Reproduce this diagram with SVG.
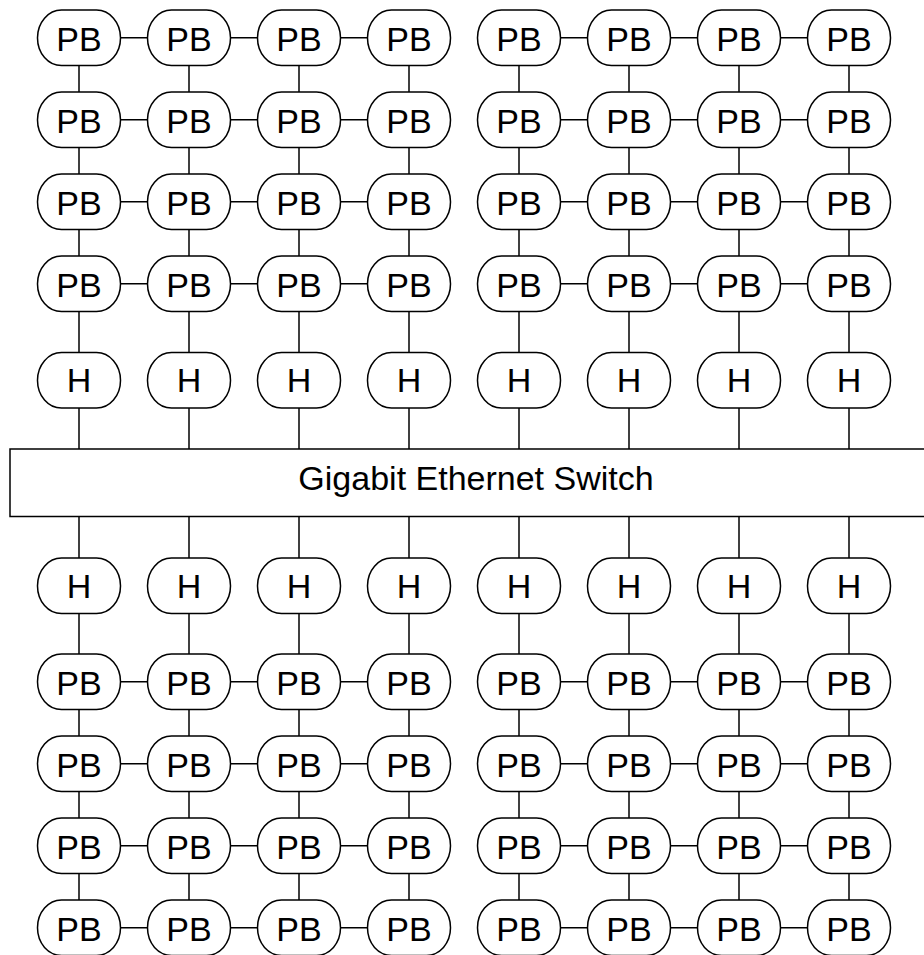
<svg xmlns="http://www.w3.org/2000/svg" width="924" height="955" viewBox="0 0 924 955">
<style>
.n{fill:#fff;stroke:#000;stroke-width:1.5}
.t{font-family:"Liberation Sans",Arial,sans-serif;font-size:34px;text-anchor:middle;fill:#000}
.c line{stroke:#000;stroke-width:1.5}
</style>
<defs>
<rect id="node" x="-41.5" y="-27.7" width="83" height="55.5" rx="24" ry="27.7" class="n"/>
</defs>
<g id="connectors" class="c">
<line x1="79" y1="37.8" x2="79" y2="449"/><line x1="189" y1="37.8" x2="189" y2="449"/><line x1="299" y1="37.8" x2="299" y2="449"/><line x1="409" y1="37.8" x2="409" y2="449"/>
<line x1="519" y1="37.8" x2="519" y2="449"/><line x1="629" y1="37.8" x2="629" y2="449"/><line x1="739" y1="37.8" x2="739" y2="449"/><line x1="849" y1="37.8" x2="849" y2="449"/>
<line x1="79" y1="516.5" x2="79" y2="927.7"/><line x1="189" y1="516.5" x2="189" y2="927.7"/><line x1="299" y1="516.5" x2="299" y2="927.7"/><line x1="409" y1="516.5" x2="409" y2="927.7"/>
<line x1="519" y1="516.5" x2="519" y2="927.7"/><line x1="629" y1="516.5" x2="629" y2="927.7"/><line x1="739" y1="516.5" x2="739" y2="927.7"/><line x1="849" y1="516.5" x2="849" y2="927.7"/>
<line x1="79" y1="37.8" x2="409" y2="37.8"/><line x1="519" y1="37.8" x2="849" y2="37.8"/>
<line x1="79" y1="119.8" x2="409" y2="119.8"/><line x1="519" y1="119.8" x2="849" y2="119.8"/>
<line x1="79" y1="201.8" x2="409" y2="201.8"/><line x1="519" y1="201.8" x2="849" y2="201.8"/>
<line x1="79" y1="283.8" x2="409" y2="283.8"/><line x1="519" y1="283.8" x2="849" y2="283.8"/>
<line x1="79" y1="681.7" x2="409" y2="681.7"/><line x1="519" y1="681.7" x2="849" y2="681.7"/>
<line x1="79" y1="763.7" x2="409" y2="763.7"/><line x1="519" y1="763.7" x2="849" y2="763.7"/>
<line x1="79" y1="845.7" x2="409" y2="845.7"/><line x1="519" y1="845.7" x2="849" y2="845.7"/>
<line x1="79" y1="927.7" x2="409" y2="927.7"/><line x1="519" y1="927.7" x2="849" y2="927.7"/>
</g>
<g id="switch">
<rect x="10" y="449" width="932" height="67.5" class="n"/>
<text x="476" y="489.5" class="t">Gigabit Ethernet Switch</text>
</g>
<g id="nodes-top">
<g id="pb-t1-1" transform="translate(79,37.8)"><use href="#node"/><text y="13" class="t">PB</text></g>
<g id="pb-t1-2" transform="translate(189,37.8)"><use href="#node"/><text y="13" class="t">PB</text></g>
<g id="pb-t1-3" transform="translate(299,37.8)"><use href="#node"/><text y="13" class="t">PB</text></g>
<g id="pb-t1-4" transform="translate(409,37.8)"><use href="#node"/><text y="13" class="t">PB</text></g>
<g id="pb-t1-5" transform="translate(519,37.8)"><use href="#node"/><text y="13" class="t">PB</text></g>
<g id="pb-t1-6" transform="translate(629,37.8)"><use href="#node"/><text y="13" class="t">PB</text></g>
<g id="pb-t1-7" transform="translate(739,37.8)"><use href="#node"/><text y="13" class="t">PB</text></g>
<g id="pb-t1-8" transform="translate(849,37.8)"><use href="#node"/><text y="13" class="t">PB</text></g>
<g id="pb-t2-1" transform="translate(79,119.8)"><use href="#node"/><text y="13" class="t">PB</text></g>
<g id="pb-t2-2" transform="translate(189,119.8)"><use href="#node"/><text y="13" class="t">PB</text></g>
<g id="pb-t2-3" transform="translate(299,119.8)"><use href="#node"/><text y="13" class="t">PB</text></g>
<g id="pb-t2-4" transform="translate(409,119.8)"><use href="#node"/><text y="13" class="t">PB</text></g>
<g id="pb-t2-5" transform="translate(519,119.8)"><use href="#node"/><text y="13" class="t">PB</text></g>
<g id="pb-t2-6" transform="translate(629,119.8)"><use href="#node"/><text y="13" class="t">PB</text></g>
<g id="pb-t2-7" transform="translate(739,119.8)"><use href="#node"/><text y="13" class="t">PB</text></g>
<g id="pb-t2-8" transform="translate(849,119.8)"><use href="#node"/><text y="13" class="t">PB</text></g>
<g id="pb-t3-1" transform="translate(79,201.8)"><use href="#node"/><text y="13" class="t">PB</text></g>
<g id="pb-t3-2" transform="translate(189,201.8)"><use href="#node"/><text y="13" class="t">PB</text></g>
<g id="pb-t3-3" transform="translate(299,201.8)"><use href="#node"/><text y="13" class="t">PB</text></g>
<g id="pb-t3-4" transform="translate(409,201.8)"><use href="#node"/><text y="13" class="t">PB</text></g>
<g id="pb-t3-5" transform="translate(519,201.8)"><use href="#node"/><text y="13" class="t">PB</text></g>
<g id="pb-t3-6" transform="translate(629,201.8)"><use href="#node"/><text y="13" class="t">PB</text></g>
<g id="pb-t3-7" transform="translate(739,201.8)"><use href="#node"/><text y="13" class="t">PB</text></g>
<g id="pb-t3-8" transform="translate(849,201.8)"><use href="#node"/><text y="13" class="t">PB</text></g>
<g id="pb-t4-1" transform="translate(79,283.8)"><use href="#node"/><text y="13" class="t">PB</text></g>
<g id="pb-t4-2" transform="translate(189,283.8)"><use href="#node"/><text y="13" class="t">PB</text></g>
<g id="pb-t4-3" transform="translate(299,283.8)"><use href="#node"/><text y="13" class="t">PB</text></g>
<g id="pb-t4-4" transform="translate(409,283.8)"><use href="#node"/><text y="13" class="t">PB</text></g>
<g id="pb-t4-5" transform="translate(519,283.8)"><use href="#node"/><text y="13" class="t">PB</text></g>
<g id="pb-t4-6" transform="translate(629,283.8)"><use href="#node"/><text y="13" class="t">PB</text></g>
<g id="pb-t4-7" transform="translate(739,283.8)"><use href="#node"/><text y="13" class="t">PB</text></g>
<g id="pb-t4-8" transform="translate(849,283.8)"><use href="#node"/><text y="13" class="t">PB</text></g>
<g id="h-t-1" transform="translate(79,380.3)"><use href="#node"/><text y="12" class="t">H</text></g>
<g id="h-t-2" transform="translate(189,380.3)"><use href="#node"/><text y="12" class="t">H</text></g>
<g id="h-t-3" transform="translate(299,380.3)"><use href="#node"/><text y="12" class="t">H</text></g>
<g id="h-t-4" transform="translate(409,380.3)"><use href="#node"/><text y="12" class="t">H</text></g>
<g id="h-t-5" transform="translate(519,380.3)"><use href="#node"/><text y="12" class="t">H</text></g>
<g id="h-t-6" transform="translate(629,380.3)"><use href="#node"/><text y="12" class="t">H</text></g>
<g id="h-t-7" transform="translate(739,380.3)"><use href="#node"/><text y="12" class="t">H</text></g>
<g id="h-t-8" transform="translate(849,380.3)"><use href="#node"/><text y="12" class="t">H</text></g>
</g>
<g id="nodes-bottom">
<g id="h-b-1" transform="translate(79,585.8)"><use href="#node"/><text y="12" class="t">H</text></g>
<g id="h-b-2" transform="translate(189,585.8)"><use href="#node"/><text y="12" class="t">H</text></g>
<g id="h-b-3" transform="translate(299,585.8)"><use href="#node"/><text y="12" class="t">H</text></g>
<g id="h-b-4" transform="translate(409,585.8)"><use href="#node"/><text y="12" class="t">H</text></g>
<g id="h-b-5" transform="translate(519,585.8)"><use href="#node"/><text y="12" class="t">H</text></g>
<g id="h-b-6" transform="translate(629,585.8)"><use href="#node"/><text y="12" class="t">H</text></g>
<g id="h-b-7" transform="translate(739,585.8)"><use href="#node"/><text y="12" class="t">H</text></g>
<g id="h-b-8" transform="translate(849,585.8)"><use href="#node"/><text y="12" class="t">H</text></g>
<g id="pb-b1-1" transform="translate(79,681.7)"><use href="#node"/><text y="13" class="t">PB</text></g>
<g id="pb-b1-2" transform="translate(189,681.7)"><use href="#node"/><text y="13" class="t">PB</text></g>
<g id="pb-b1-3" transform="translate(299,681.7)"><use href="#node"/><text y="13" class="t">PB</text></g>
<g id="pb-b1-4" transform="translate(409,681.7)"><use href="#node"/><text y="13" class="t">PB</text></g>
<g id="pb-b1-5" transform="translate(519,681.7)"><use href="#node"/><text y="13" class="t">PB</text></g>
<g id="pb-b1-6" transform="translate(629,681.7)"><use href="#node"/><text y="13" class="t">PB</text></g>
<g id="pb-b1-7" transform="translate(739,681.7)"><use href="#node"/><text y="13" class="t">PB</text></g>
<g id="pb-b1-8" transform="translate(849,681.7)"><use href="#node"/><text y="13" class="t">PB</text></g>
<g id="pb-b2-1" transform="translate(79,763.7)"><use href="#node"/><text y="13" class="t">PB</text></g>
<g id="pb-b2-2" transform="translate(189,763.7)"><use href="#node"/><text y="13" class="t">PB</text></g>
<g id="pb-b2-3" transform="translate(299,763.7)"><use href="#node"/><text y="13" class="t">PB</text></g>
<g id="pb-b2-4" transform="translate(409,763.7)"><use href="#node"/><text y="13" class="t">PB</text></g>
<g id="pb-b2-5" transform="translate(519,763.7)"><use href="#node"/><text y="13" class="t">PB</text></g>
<g id="pb-b2-6" transform="translate(629,763.7)"><use href="#node"/><text y="13" class="t">PB</text></g>
<g id="pb-b2-7" transform="translate(739,763.7)"><use href="#node"/><text y="13" class="t">PB</text></g>
<g id="pb-b2-8" transform="translate(849,763.7)"><use href="#node"/><text y="13" class="t">PB</text></g>
<g id="pb-b3-1" transform="translate(79,845.7)"><use href="#node"/><text y="13" class="t">PB</text></g>
<g id="pb-b3-2" transform="translate(189,845.7)"><use href="#node"/><text y="13" class="t">PB</text></g>
<g id="pb-b3-3" transform="translate(299,845.7)"><use href="#node"/><text y="13" class="t">PB</text></g>
<g id="pb-b3-4" transform="translate(409,845.7)"><use href="#node"/><text y="13" class="t">PB</text></g>
<g id="pb-b3-5" transform="translate(519,845.7)"><use href="#node"/><text y="13" class="t">PB</text></g>
<g id="pb-b3-6" transform="translate(629,845.7)"><use href="#node"/><text y="13" class="t">PB</text></g>
<g id="pb-b3-7" transform="translate(739,845.7)"><use href="#node"/><text y="13" class="t">PB</text></g>
<g id="pb-b3-8" transform="translate(849,845.7)"><use href="#node"/><text y="13" class="t">PB</text></g>
<g id="pb-b4-1" transform="translate(79,927.7)"><use href="#node"/><text y="13" class="t">PB</text></g>
<g id="pb-b4-2" transform="translate(189,927.7)"><use href="#node"/><text y="13" class="t">PB</text></g>
<g id="pb-b4-3" transform="translate(299,927.7)"><use href="#node"/><text y="13" class="t">PB</text></g>
<g id="pb-b4-4" transform="translate(409,927.7)"><use href="#node"/><text y="13" class="t">PB</text></g>
<g id="pb-b4-5" transform="translate(519,927.7)"><use href="#node"/><text y="13" class="t">PB</text></g>
<g id="pb-b4-6" transform="translate(629,927.7)"><use href="#node"/><text y="13" class="t">PB</text></g>
<g id="pb-b4-7" transform="translate(739,927.7)"><use href="#node"/><text y="13" class="t">PB</text></g>
<g id="pb-b4-8" transform="translate(849,927.7)"><use href="#node"/><text y="13" class="t">PB</text></g>
</g>
</svg>
